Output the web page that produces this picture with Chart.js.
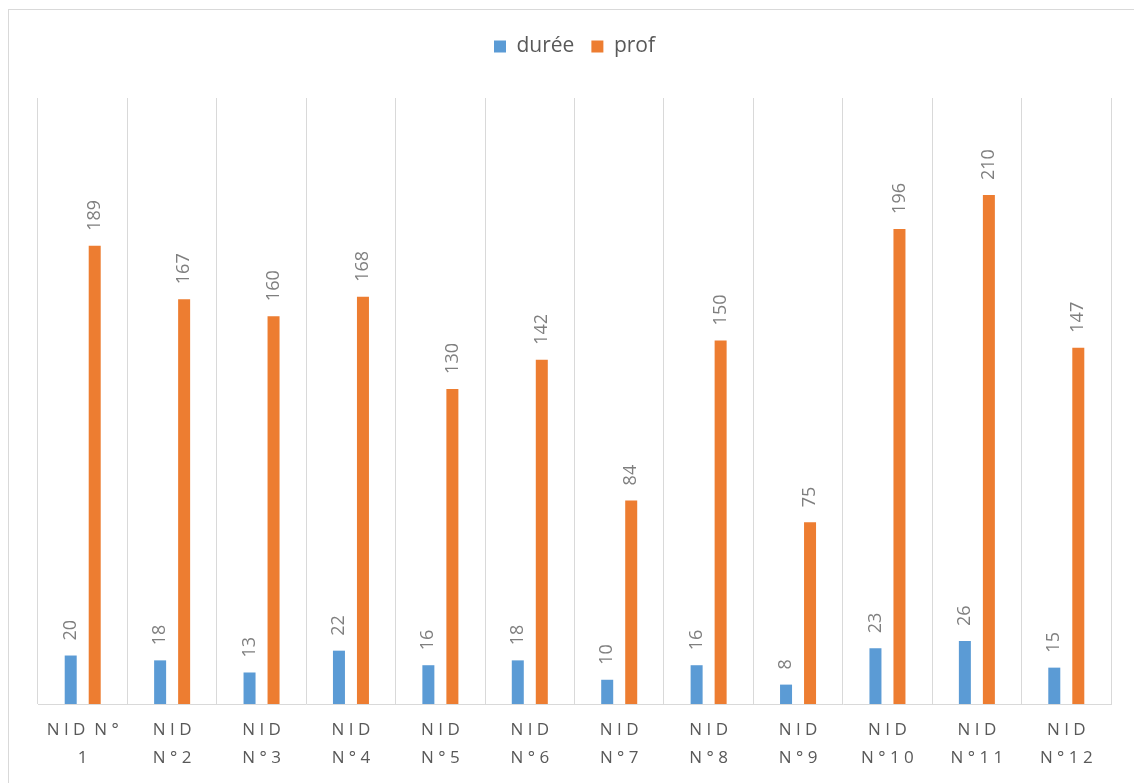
<!DOCTYPE html>
<html>
<head>
<meta charset="utf-8">
<script src="https://cdn.jsdelivr.net/npm/chart.js@4"></script>
<style>
    html, body { margin: 0; padding: 0; background: #fff; overflow: hidden; }
    #cadre { position: absolute; left: 0; top: 0; width: 1134px; height: 783px; }
    #bord { position: absolute; left: 8px; top: 9px; width: 1200px; height: 900px;
            border-left: 1px solid #d9d9d9; border-top: 1px solid #d9d9d9; pointer-events: none; }
</style>
</head>
<body>
<div id="cadre"><canvas id="graphique"></canvas></div>
<div id="bord"></div>
<script>
// --- DONNÉES ---
const categories = ['NID N°1', 'NID N°2', 'NID N°3', 'NID N°4', 'NID N°5', 'NID N°6',
                    'NID N°7', 'NID N°8', 'NID N°9', 'NID N°10', 'NID N°11', 'NID N°12'];
const etiquettes = [
    ['N I D  N °', '1'], ['N I D', 'N ° 2'], ['N I D', 'N ° 3'], ['N I D', 'N ° 4'],
    ['N I D', 'N ° 5'], ['N I D', 'N ° 6'], ['N I D', 'N ° 7'], ['N I D', 'N ° 8'],
    ['N I D', 'N ° 9'], ['N I D', 'N ° 1 0'], ['N I D', 'N ° 1 1'], ['N I D', 'N ° 1 2']
];
const duree = [20, 18, 13, 22, 16, 18, 10, 16, 8, 23, 26, 15];
const prof = [189, 167, 160, 168, 130, 142, 84, 150, 75, 196, 210, 147];

const GRIS_TEXTE = '#595959';
const GRIS_VALEUR = '#7f7f7f';
const GRIS_GRILLE = '#d9d9d9';

// espace sous la légende
const margeLegende = {
    id: 'margeLegende',
    beforeInit(chart) {
        const fitOrig = chart.legend.fit;
        chart.legend.fit = function () {
            fitOrig.bind(chart.legend)();
            this.height += 31;
        };
    }
};

// étiquettes de valeurs verticales au-dessus des barres
const etiquettesValeurs = {
    id: 'etiquettesValeurs',
    afterDatasetsDraw(chart) {
        const ctx = chart.ctx;
        ctx.save();
        ctx.font = '18px "Open Sans"';
        ctx.fillStyle = GRIS_VALEUR;
        ctx.textAlign = 'left';
        ctx.textBaseline = 'middle';
        chart.data.datasets.forEach((ds, i) => {
            chart.getDatasetMeta(i).data.forEach((barre, j) => {
                ctx.save();
                ctx.translate(barre.x, barre.y - 15);
                ctx.rotate(-Math.PI / 2);
                ctx.fillText(String(ds.data[j]), 0, 0);
                ctx.restore();
            });
        });
        ctx.restore();
    }
};

new Chart(document.getElementById('graphique'), {
    type: 'bar',
    data: {
        labels: categories,
        datasets: [
            { label: 'durée', data: duree, backgroundColor: '#5b9bd5' },
            { label: 'prof', data: prof, backgroundColor: '#ed7d31' }
        ]
    },
    options: {
        responsive: true,
        maintainAspectRatio: false,
        animation: false,
        categoryPercentage: 0.537,
        barPercentage: 0.5,
        layout: { padding: { left: 38, right: 23, top: 19, bottom: 12 } },
        plugins: {
            tooltip: { enabled: false },
            legend: {
                position: 'top',
                labels: {
                    boxWidth: 12,
                    boxHeight: 12,
                    padding: 17,
                    color: GRIS_TEXTE,
                    font: { family: 'Open Sans', size: 21 }
                }
            }
        },
        scales: {
            x: {
                grid: { color: GRIS_GRILLE, lineWidth: 1, drawTicks: false, tickLength: 0, offset: true },
                border: { display: true, color: GRIS_GRILLE },
                afterFit: (s) => { s.height = 67; },
                ticks: {
                    padding: 13,
                    maxRotation: 0,
                    autoSkip: false,
                    color: GRIS_TEXTE,
                    font: { family: 'Open Sans', size: 17, lineHeight: 1.6 },
                    callback: (v, i) => etiquettes[i]
                }
            },
            y: { display: false, min: 0, max: 250 }
        }
    },
    plugins: [margeLegende, etiquettesValeurs]
});
</script>
</body>
</html>
